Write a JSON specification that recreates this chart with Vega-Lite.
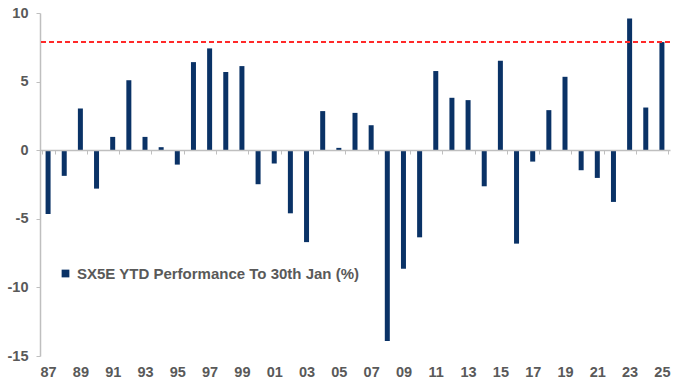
{
  "$schema": "https://vega.github.io/schema/vega-lite/v6.json",
  "width": 630,
  "height": 343,
  "autosize": "none",
  "padding": {"left": 40, "top": 13, "right": 11, "bottom": 32},
  "background": "white",
  "config": {
    "view": {"stroke": null},
    "font": "Liberation Sans"
  },
  "data": {
    "values": [
      {"year": "87", "value": -4.65, "series": "SX5E YTD Performance To 30th Jan (%)"},
      {"year": "88", "value": -1.87, "series": "SX5E YTD Performance To 30th Jan (%)"},
      {"year": "89", "value": 3.04, "series": "SX5E YTD Performance To 30th Jan (%)"},
      {"year": "90", "value": -2.8, "series": "SX5E YTD Performance To 30th Jan (%)"},
      {"year": "91", "value": 0.97, "series": "SX5E YTD Performance To 30th Jan (%)"},
      {"year": "92", "value": 5.1, "series": "SX5E YTD Performance To 30th Jan (%)"},
      {"year": "93", "value": 0.97, "series": "SX5E YTD Performance To 30th Jan (%)"},
      {"year": "94", "value": 0.22, "series": "SX5E YTD Performance To 30th Jan (%)"},
      {"year": "95", "value": -1.05, "series": "SX5E YTD Performance To 30th Jan (%)"},
      {"year": "96", "value": 6.42, "series": "SX5E YTD Performance To 30th Jan (%)"},
      {"year": "97", "value": 7.42, "series": "SX5E YTD Performance To 30th Jan (%)"},
      {"year": "98", "value": 5.7, "series": "SX5E YTD Performance To 30th Jan (%)"},
      {"year": "99", "value": 6.13, "series": "SX5E YTD Performance To 30th Jan (%)"},
      {"year": "00", "value": -2.48, "series": "SX5E YTD Performance To 30th Jan (%)"},
      {"year": "01", "value": -0.97, "series": "SX5E YTD Performance To 30th Jan (%)"},
      {"year": "02", "value": -4.6, "series": "SX5E YTD Performance To 30th Jan (%)"},
      {"year": "03", "value": -6.7, "series": "SX5E YTD Performance To 30th Jan (%)"},
      {"year": "04", "value": 2.85, "series": "SX5E YTD Performance To 30th Jan (%)"},
      {"year": "05", "value": 0.17, "series": "SX5E YTD Performance To 30th Jan (%)"},
      {"year": "06", "value": 2.72, "series": "SX5E YTD Performance To 30th Jan (%)"},
      {"year": "07", "value": 1.82, "series": "SX5E YTD Performance To 30th Jan (%)"},
      {"year": "08", "value": -13.9, "series": "SX5E YTD Performance To 30th Jan (%)"},
      {"year": "09", "value": -8.64, "series": "SX5E YTD Performance To 30th Jan (%)"},
      {"year": "10", "value": -6.35, "series": "SX5E YTD Performance To 30th Jan (%)"},
      {"year": "11", "value": 5.77, "series": "SX5E YTD Performance To 30th Jan (%)"},
      {"year": "12", "value": 3.82, "series": "SX5E YTD Performance To 30th Jan (%)"},
      {"year": "13", "value": 3.65, "series": "SX5E YTD Performance To 30th Jan (%)"},
      {"year": "14", "value": -2.63, "series": "SX5E YTD Performance To 30th Jan (%)"},
      {"year": "15", "value": 6.52, "series": "SX5E YTD Performance To 30th Jan (%)"},
      {"year": "16", "value": -6.81, "series": "SX5E YTD Performance To 30th Jan (%)"},
      {"year": "17", "value": -0.83, "series": "SX5E YTD Performance To 30th Jan (%)"},
      {"year": "18", "value": 2.92, "series": "SX5E YTD Performance To 30th Jan (%)"},
      {"year": "19", "value": 5.35, "series": "SX5E YTD Performance To 30th Jan (%)"},
      {"year": "20", "value": -1.46, "series": "SX5E YTD Performance To 30th Jan (%)"},
      {"year": "21", "value": -2.02, "series": "SX5E YTD Performance To 30th Jan (%)"},
      {"year": "22", "value": -3.77, "series": "SX5E YTD Performance To 30th Jan (%)"},
      {"year": "23", "value": 9.6, "series": "SX5E YTD Performance To 30th Jan (%)"},
      {"year": "24", "value": 3.11, "series": "SX5E YTD Performance To 30th Jan (%)"},
      {"year": "25", "value": 7.88, "series": "SX5E YTD Performance To 30th Jan (%)"}
    ]
  },
  "layer": [
    {
      "mark": {"type": "bar", "width": 5},
      "encoding": {
        "x": {
          "field": "year",
          "type": "ordinal",
          "sort": null,
          "scale": {"paddingInner": 0.2, "paddingOuter": 0.1},
          "axis": {
            "title": null,
            "values": ["87","89","91","93","95","97","99","01","03","05","07","09","11","13","15","17","19","21","23","25"],
            "labelAngle": 0,
            "offset": -206,
            "domainColor": "#bfbfbf",
            "domainWidth": 1.5,
            "tickColor": "#bfbfbf",
            "tickSize": 4,
            "tickBand": "extent",
            "labelPadding": 211,
            "labelFont": "Liberation Sans",
            "labelFontWeight": "bold",
            "labelFontSize": 14.5,
            "labelColor": "#595959",
            "zindex": 1
          }
        },
        "y": {
          "field": "value",
          "type": "quantitative",
          "scale": {"domain": [-15, 10], "nice": false, "zero": false},
          "axis": {
            "title": null,
            "values": [-15, -10, -5, 0, 5, 10],
            "labelExpr": "'' + datum.value",
            "grid": false,
            "domainColor": "#bfbfbf",
            "domainWidth": 1.5,
            "tickColor": "#bfbfbf",
            "tickSize": 4,
            "labelPadding": 8,
            "labelFont": "Liberation Sans",
            "labelFontWeight": "bold",
            "labelFontSize": 14.5,
            "labelColor": "#595959"
          }
        },
        "color": {
          "field": "series",
          "type": "nominal",
          "scale": {"range": ["#0a3266"]},
          "legend": {
            "title": null,
            "orient": "none",
            "legendX": 18,
            "legendY": 253,
            "symbolType": "square",
            "symbolSize": 60,
            "symbolOpacity": 1,
            "labelLimit": 0,
            "labelFont": "Liberation Sans",
            "labelFontWeight": "bold",
            "labelFontSize": 15,
            "labelColor": "#595959",
            "labelOffset": 4
          }
        }
      }
    },
    {
      "mark": {"type": "rule", "color": "#ff2a2a", "strokeDash": [5, 3], "strokeWidth": 1.5},
      "encoding": {
        "y": {"datum": 7.88}
      }
    }
  ]
}
